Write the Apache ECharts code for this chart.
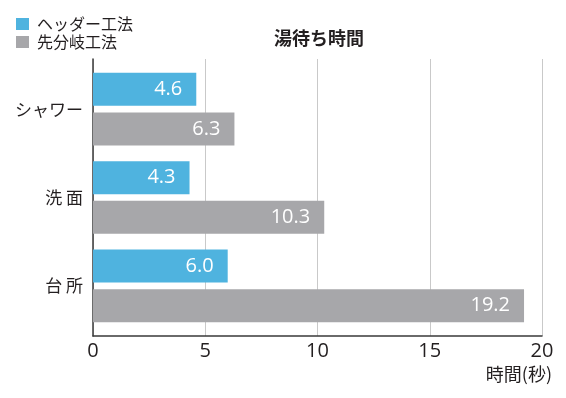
<!DOCTYPE html>
<html><head><meta charset="utf-8">
<script src="https://cdn.jsdelivr.net/npm/echarts@6/dist/echarts.min.js"></script>
<style>html,body{margin:0;padding:0;background:#fff}#c{width:566px;height:398px}</style>
</head><body><div id="c"></div>
<script>
const categories = ['シャワー', '洗 面', '台 所'];
const headerValues = [4.6, 4.3, 6.0];
const branchValues = [6.3, 10.3, 19.2];
const seriesNames = ['ヘッダー工法', '先分岐工法'];
const xTicks = { min: 0, max: 20, interval: 5 };

const FONT = "'Noto Sans CJK JP', 'Noto Sans', sans-serif";
const NUM = "'Open Sans', 'Noto Sans', sans-serif";
const TXT = '#231f20';
const chart = echarts.init(document.getElementById('c'), null, { renderer: 'canvas' });
const valLabel = {
  show: true, position: 'insideRight', distance: 14, color: '#fff',
  fontFamily: NUM, fontSize: 20, fontWeight: 'normal', formatter: p => p.value.toFixed(1)
};
chart.setOption({
  animation: false,
  textStyle: { fontFamily: FONT },
  title: {
    text: '湯待ち時間', left: 269, top: 24,
    textStyle: { fontFamily: FONT, fontSize: 18, fontWeight: 'bold', color: TXT }
  },
  legend: {
    orient: 'vertical', left: 16, top: 16, padding: 0, itemWidth: 13, itemHeight: 12, itemGap: 2,
    icon: 'rect',
    textStyle: { fontFamily: FONT, fontSize: 16, color: TXT, padding: [0, 0, 0, 3] },
    data: seriesNames
  },
  grid: [
    { left: 93, right: 24, top: 59, bottom: 62 },
    { left: 93, right: 24, top: 65, bottom: 68 }
  ],
  xAxis: [
    {
      gridIndex: 0, type: 'value', min: xTicks.min, max: xTicks.max, interval: xTicks.interval,
      axisLine: { show: true, lineStyle: { color: '#3a3a3a', width: 1.5 } },
      axisTick: { show: false },
      axisLabel: { fontFamily: NUM, fontSize: 20, color: TXT, margin: 5 },
      splitLine: { show: true, lineStyle: { color: '#c9c9c9', width: 1 } }
    },
    { gridIndex: 1, type: 'value', min: xTicks.min, max: xTicks.max, show: false }
  ],
  yAxis: [
    {
      gridIndex: 0, type: 'category', data: categories, inverse: true,
      axisLine: { show: true, lineStyle: { color: '#3a3a3a', width: 1.5 } },
      axisTick: { show: false }, axisLabel: { show: false }, splitLine: { show: false }
    },
    {
      gridIndex: 1, type: 'category', data: categories, inverse: true,
      axisLine: { show: false }, axisTick: { show: false },
      axisLabel: { fontFamily: FONT, fontSize: 17, color: TXT, margin: 10 }
    }
  ],
  graphic: [{
    type: 'text', right: 14, top: 365,
    style: { text: '時間(秒)', fontFamily: FONT, fontSize: 18, fill: TXT }
  }],
  series: [
    {
      name: seriesNames[0], type: 'bar', xAxisIndex: 1, yAxisIndex: 1,
      data: headerValues, barWidth: 33, barGap: '20%',
      itemStyle: { color: '#4fb3df' }, label: valLabel
    },
    {
      name: seriesNames[1], type: 'bar', xAxisIndex: 1, yAxisIndex: 1,
      data: branchValues, barWidth: 33, barGap: '20%',
      itemStyle: { color: '#a7a7aa' }, label: valLabel
    }
  ]
});
</script></body></html>
